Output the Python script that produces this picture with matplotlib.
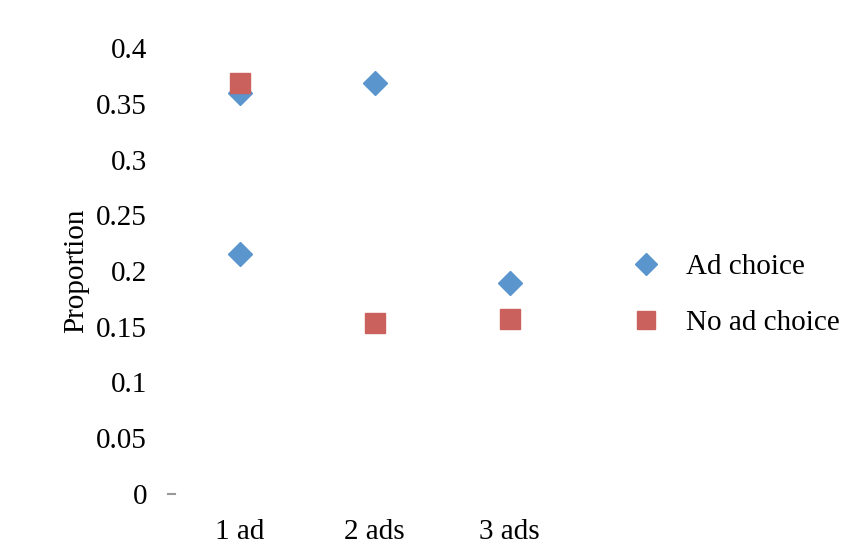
import matplotlib.pyplot as plt
from matplotlib.lines import Line2D

plt.rcParams['font.family'] = ['Liberation Serif', 'DejaVu Serif']
plt.rcParams['font.size'] = 21

# data
categories = ['1 ad', '2 ads', '3 ads']
ad_choice_x = [1, 1, 2, 3]
ad_choice_y = [0.36, 0.215, 0.369, 0.189]
no_choice_x = [1, 2, 3]
no_choice_y = [0.369, 0.153, 0.157]
yticks = [0, 0.05, 0.1, 0.15, 0.2, 0.25, 0.3, 0.35, 0.4]
ytick_labels = ['0', '0.05', '0.1', '0.15', '0.2', '0.25', '0.3', '0.35', '0.4']

blue = '#5B95CE'
red = '#CA615C'

fig = plt.figure(figsize=(8.43, 5.44), dpi=100)
ax = fig.add_axes([172 / 843, 50 / 544, 405 / 843, 446 / 544])

ax.plot(ad_choice_x, ad_choice_y, linestyle='none', marker='D', markersize=12,
        color=blue, label='Ad choice')
ax.plot(no_choice_x, no_choice_y, linestyle='none', marker='s', markersize=15,
        color=red, label='No ad choice')

ax.set_xlim(0.5, 3.5)
ax.set_ylim(0, 0.4)
ax.set_xticks([1, 2, 3])
ax.set_xticklabels(categories)
ax.set_yticks(yticks)
ax.set_yticklabels(ytick_labels)
ax.tick_params(axis='y', length=0, pad=18)
ax.tick_params(axis='x', length=0, pad=18)
for s in ax.spines.values():
    s.set_visible(False)
ax.set_ylabel('Proportion', labelpad=5)

# small gray mark at the origin
ax.plot([0.47, 0.52], [0, 0], color='#999999', lw=1.5, clip_on=False)

handles = [
    Line2D([], [], color=blue, marker='D', markersize=11, linestyle='none'),
    Line2D([], [], color=red, marker='s', markersize=13, linestyle='none'),
]
fig.legend(handles, ['Ad choice', 'No ad choice'], loc='center left',
           bbox_to_anchor=(628 / 843, 1 - 295 / 544), frameon=False,
           handlelength=1.2, handletextpad=0.8, labelspacing=1.0,
           borderaxespad=0, borderpad=0)

fig.savefig('out.png', dpi=100)
